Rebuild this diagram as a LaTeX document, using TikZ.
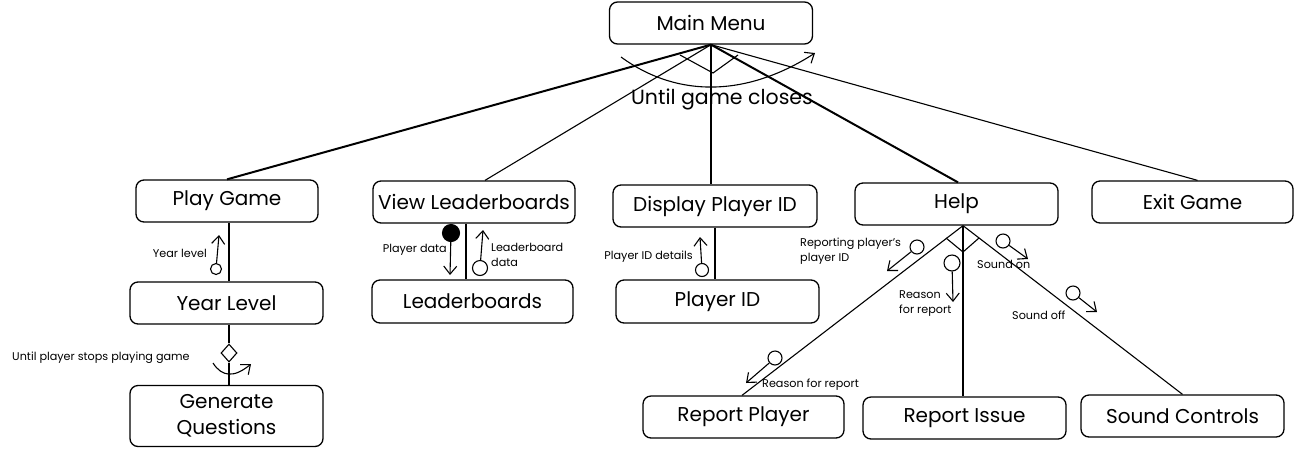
\documentclass[tikz,border=0pt]{standalone}
\usepackage{fontspec}
\setmainfont{Poppins}
\usetikzlibrary{arrows.meta,shapes.geometric}
\begin{document}
\begin{tikzpicture}[x=1pt,y=-1pt,
 box/.style={draw, rounded corners=8pt, line width=1.3pt, font=\fontsize{20}{26}\selectfont, align=center, inner sep=0pt, minimum height=42pt},
 thinline/.style={line width=1.1pt},
 thickline/.style={line width=2pt},
 arr/.style={line width=1.1pt, -{Straight Barb[length=8pt,width=13pt,line width=1.1pt]}},
 lbl/.style={font=\fontsize{11.2}{15}\selectfont, inner sep=0pt, align=left},
 couple/.style={circle, draw, line width=1.1pt, fill=white, inner sep=0pt},
]
\useasboundingbox (0,0) rectangle (1316,456);

% boxes
\node[box, minimum width=203pt] (mm) at (711,23) {Main Menu};
\node[box, minimum width=182pt] (pg) at (227,201) {Play Game};
\node[box, minimum width=202pt] (vl) at (474,202) {View Leaderboards};
\node[box, minimum width=204pt] (dp) at (715,206) {Display Player ID};
\node[box, minimum width=203pt] (help) at (956.5,204) {Help};
\node[box, minimum width=201pt] (exit) at (1192.5,202) {Exit Game};
\node[box, minimum width=193pt] (yl) at (226.5,303) {Year Level};
\node[box, minimum width=201pt, minimum height=43pt] (lb) at (472.5,301.5) {Leaderboards};
\node[box, minimum width=203pt, minimum height=43pt] (pid) at (717.5,301.5) {Player ID};
\node[box, minimum width=193pt, minimum height=61pt] (gq) at (226.5,416) {Generate\\Questions};
\node[box, minimum width=201pt] (rp) at (743.5,417) {Report Player};
\node[box, minimum width=203pt] (ri) at (964.5,418) {Report Issue};
\node[box, minimum width=203pt] (sc) at (1182.5,416) {Sound Controls};

% main menu connectors
\draw[thickline] (mm.south) -- (pg.north);
\draw[thinline] (mm.south) -- ([xshift=11pt]vl.north);
\draw[thinline] (mm.south) -- (mm.south |- dp.north);
\draw[thickline] (mm.south) -- ([xshift=1.5pt]help.north);
\draw[thinline] (mm.south) -- ([xshift=5pt]exit.north);

% loop at main menu
\draw[thinline] (680,55) -- (713,73) -- (738,55);
\coordinate (la) at (621,57);
\coordinate (lbend) at (815,53);
\draw[arr] (la) .. controls (680,100) and (750,95) .. (lbend);
\node[font=\fontsize{20.5}{24}\selectfont, inner sep=0pt] (tloop) at (722,99) {Until game closes};

% play game branch
\draw[thinline] ([xshift=2pt]pg.south) -- ([xshift=2.5pt]yl.north);
\node[couple, minimum size=11pt] (cyl) at (216,269) {};
\coordinate (cylt) at (219,235);
\draw[arr] (cyl) -- (cylt);
\node[lbl, anchor=east] (lyl) at (207,253) {Year level};

\node[diamond, draw, fill=white, minimum width=16pt, minimum height=18pt, inner sep=0pt, line width=1.1pt] (dm) at (229,353) {};
\draw[thinline] ([xshift=2.5pt]yl.south) -- (dm.north);
\draw[thinline] (dm.south) -- ([xshift=2.5pt]gq.north);
\coordinate (g1) at (213,363);
\coordinate (g2) at (251,364);
\draw[arr] (g1) .. controls (222,377) and (234,378) .. (g2);
\node[lbl, anchor=west] (lloop) at (12,358) {Until player stops playing game};

% leaderboards branch
\draw[thinline] ([xshift=-8pt]vl.south) -- ([xshift=-6.5pt]lb.north);
\node[circle, draw, fill=black, line width=1.1pt, inner sep=0pt, minimum size=17pt] (cpd) at (451,233) {};
\coordinate (cpdt) at (450,275);
\draw[arr] (cpd) -- (cpdt);
\node[lbl, anchor=east] (lpd) at (447,250) {Player data};
\node[couple, minimum size=15pt] (cld) at (480,268) {};
\coordinate (cldt) at (483,230);
\draw[arr] (cld) -- (cldt);
\node[lbl, anchor=north west] (lld) at (491,243) {Leaderboard\\data};

% display player id branch
\draw[thinline] (dp.south) -- (dp.south |- pid.north);
\node[couple, minimum size=13pt] (cpid) at (702,270) {};
\coordinate (cpidt) at (700,237);
\draw[arr] (cpid) -- (cpidt);
\node[lbl, anchor=east] (lpid) at (693,257) {Player ID details};

% help branch
\draw[thinline] ([xshift=6.5pt]help.south) -- ([xshift=-1.5pt]rp.north);
\draw[thinline] ([xshift=6.5pt]help.south) -- ([xshift=-1.5pt]ri.north);
\draw[thinline] ([xshift=6.5pt]help.south) -- (sc.north);
\draw[thinline] (946,238) -- (963,252) -- (979,238);

\node[couple, minimum size=14pt] (crpid) at (917,247) {};
\coordinate (crpidt) at (887,271);
\draw[arr] (crpid) -- (crpidt);
\node[lbl, anchor=north west] (lrpid) at (800,238) {Reporting player's\\player ID};

\node[couple, minimum size=16pt] (crfr) at (952,263) {};
\coordinate (crfrt) at (953,302);
\draw[arr] (crfr) -- (crfrt);
\node[lbl, anchor=north west] (lrfr) at (899,290) {Reason\\for report};

\node[couple, minimum size=14pt] (cson) at (1003,241) {};
\coordinate (csont) at (1028,259);
\draw[arr] (cson) -- (csont);
\node[lbl, anchor=west] (lson) at (977,264) {Sound on};

\node[couple, minimum size=14pt] (csoff) at (1073,293) {};
\coordinate (csofft) at (1097,312);
\draw[arr] (csoff) -- (csofft);
\node[lbl, anchor=west] (lsoff) at (1012,315) {Sound off};

\node[couple, minimum size=14pt] (crfr2) at (775,358) {};
\coordinate (crfr2t) at (746,383);
\draw[arr] (crfr2) -- (crfr2t);
\node[lbl, anchor=west] (lrfr2) at (762,385) {Reason for report};
\end{tikzpicture}
\end{document}
